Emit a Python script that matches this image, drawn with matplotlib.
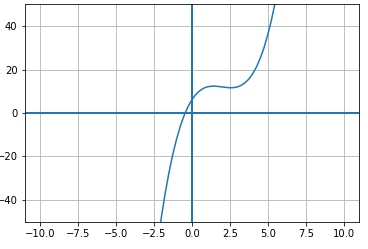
import matplotlib
matplotlib.use("Agg")
import matplotlib.pyplot as plt

# points
x_vals = [-2.25, -2.0, -1.75, -1.5, -1.25, -1.0, -0.75, -0.5, -0.25, 0.0,
          0.25, 0.5, 0.75, 1.0, 1.25, 1.5, 1.75, 2.0, 2.25, 2.5,
          2.75, 3.0, 3.25, 3.5, 3.75, 4.0, 4.25, 4.5, 4.75, 5.0,
          5.25, 5.5, 5.75]
y_vals = [-60.5, -48.0, -37.0, -27.4, -19.1, -12.0, -6.0, -1.1, 2.9, 6.0,
          8.4, 10.1, 11.3, 12.0, 12.3, 12.4, 12.2, 12.0, 11.8, 11.6,
          11.7, 12.0, 12.7, 13.9, 15.6, 18.0, 21.1, 25.1, 30.0, 36.0,
          43.1, 51.4, 61.0]

fig = plt.figure(figsize=(368 / 72, 249 / 72), dpi=72)
ax = fig.add_axes([0.0666, 0.1096, 0.909, 0.873])

ax.plot(x_vals, y_vals, color="C0", linewidth=1.5)
ax.axhline(0, color="C0", linewidth=2)
ax.axvline(0, color="C0", linewidth=2)

ax.set_xlim(-11, 11)
ax.set_ylim(-50, 50)
ax.set_xticks([-10, -7.5, -5, -2.5, 0, 2.5, 5, 7.5, 10])
ax.set_yticks([-40, -20, 0, 20, 40])
ax.grid(True)

fig.savefig("out.png", dpi=72)
